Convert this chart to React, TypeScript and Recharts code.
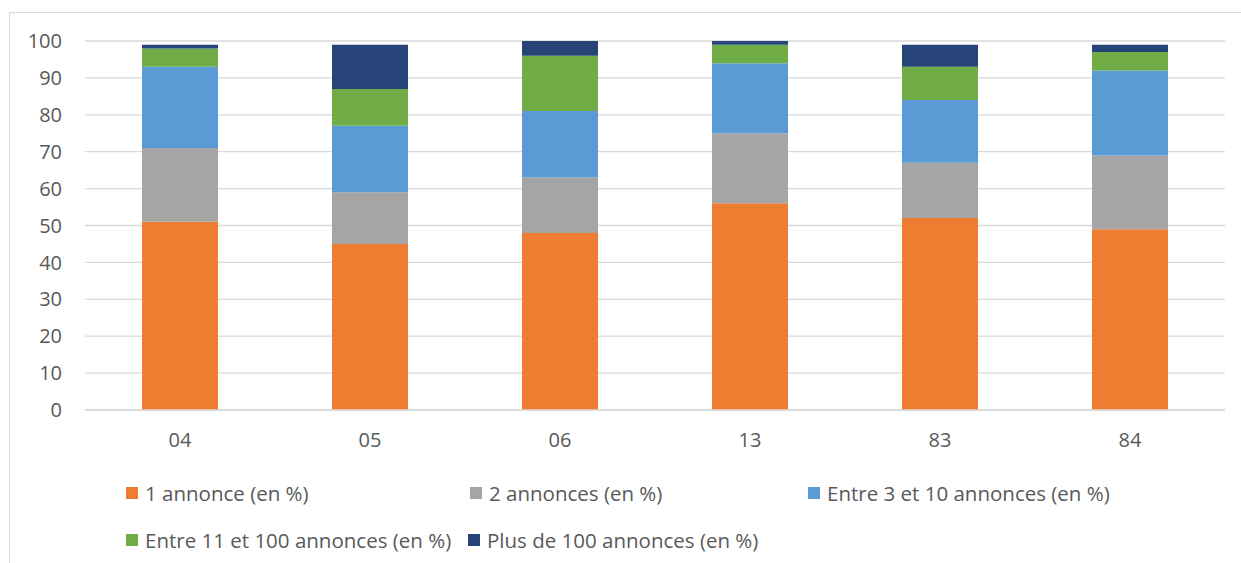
import { BarChart, Bar, XAxis, YAxis, CartesianGrid, Legend } from "recharts";

const departements = ["04", "05", "06", "13", "83", "84"];
const uneAnnonce = [51, 45, 48, 56, 52, 49];
const deuxAnnonces = [20, 14, 15, 19, 15, 20];
const de3a10 = [22, 18, 18, 19, 17, 23];
const de11a100 = [5, 10, 15, 5, 9, 5];
const plusDe100 = [1, 12, 4, 1, 6, 2];
const yTicks = [0, 10, 20, 30, 40, 50, 60, 70, 80, 90, 100];

const series = [
  { key: "a", name: "1 annonce (en %)", color: "#ED7D31", values: uneAnnonce },
  { key: "b", name: "2 annonces (en %)", color: "#A5A5A5", values: deuxAnnonces },
  { key: "c", name: "Entre 3 et 10 annonces (en %)", color: "#5B9BD5", values: de3a10 },
  { key: "d", name: "Entre 11 et 100 annonces (en %)", color: "#70AD47", values: de11a100 },
  { key: "e", name: "Plus de 100 annonces (en %)", color: "#264478", values: plusDe100 },
];

const data = departements.map((d, i) => {
  const row: Record<string, string | number> = { name: d };
  series.forEach((s) => {
    row[s.key] = s.values[i];
  });
  return row;
});

const FONT = "'Open Sans', sans-serif";
const TEXT = "#595959";

// legend item spots (Excel wraps them in two rows)
const legendPos = [
  { left: 126, top: 0 },
  { left: 470, top: 0 },
  { left: 808, top: 0 },
  { left: 126, top: 47 },
  { left: 468, top: 47 },
];

const LegendBox = () => (
  <div style={{ position: "relative", width: 1241, height: 80 }}>
    {series.map((s, i) => (
      <div
        key={s.key}
        style={{
          position: "absolute",
          left: legendPos[i].left,
          top: legendPos[i].top,
          height: 24,
          display: "flex",
          alignItems: "center",
          whiteSpace: "nowrap",
          fontFamily: FONT,
          fontSize: 20.5,
          color: TEXT,
        }}
      >
        <span
          style={{
            width: 12,
            height: 12,
            background: s.color,
            display: "inline-block",
            marginRight: 7,
          }}
        />
        {s.name}
      </div>
    ))}
  </div>
);

export default function App() {
  return (
    <div
      style={{
        position: "fixed",
        left: 0,
        top: 0,
        width: 1241,
        height: 563,
        background: "#fff",
        overflow: "hidden",
      }}
    >
      <div
        style={{
          position: "absolute",
          left: 9,
          top: 12,
          width: 1400,
          height: 700,
          border: "1px solid #d9d9d9",
        }}
      />
      <div style={{ position: "absolute", left: 0, top: 0 }}>
        <BarChart
          width={1241}
          height={563}
          data={data}
          margin={{ top: 41, right: 16, left: 0, bottom: 43 }}
          barSize={76}
        >
          <CartesianGrid vertical={false} stroke="#d9d9d9" strokeWidth={1.3} />
          <XAxis
            dataKey="name"
            tickLine={false}
            axisLine={{ stroke: "#d9d9d9", strokeWidth: 1.3 }}
            tickSize={0}
            tickMargin={23}
            tick={{ fill: TEXT, fontSize: 20, fontFamily: FONT }}
          />
          <YAxis
            width={85}
            domain={[0, 100]}
            ticks={yTicks}
            axisLine={false}
            tickLine={false}
            tickSize={0}
            tickMargin={23}
            tick={{ fill: TEXT, fontSize: 20, fontFamily: FONT }}
          />
          <Legend
            verticalAlign="bottom"
            wrapperStyle={{ left: 0, top: 481, width: 1241, height: 80 }}
            content={() => <LegendBox />}
          />
          {series.map((s) => (
            <Bar
              key={s.key}
              dataKey={s.key}
              name={s.name}
              stackId="s"
              fill={s.color}
              isAnimationActive={false}
            />
          ))}
        </BarChart>
      </div>
    </div>
  );
}
